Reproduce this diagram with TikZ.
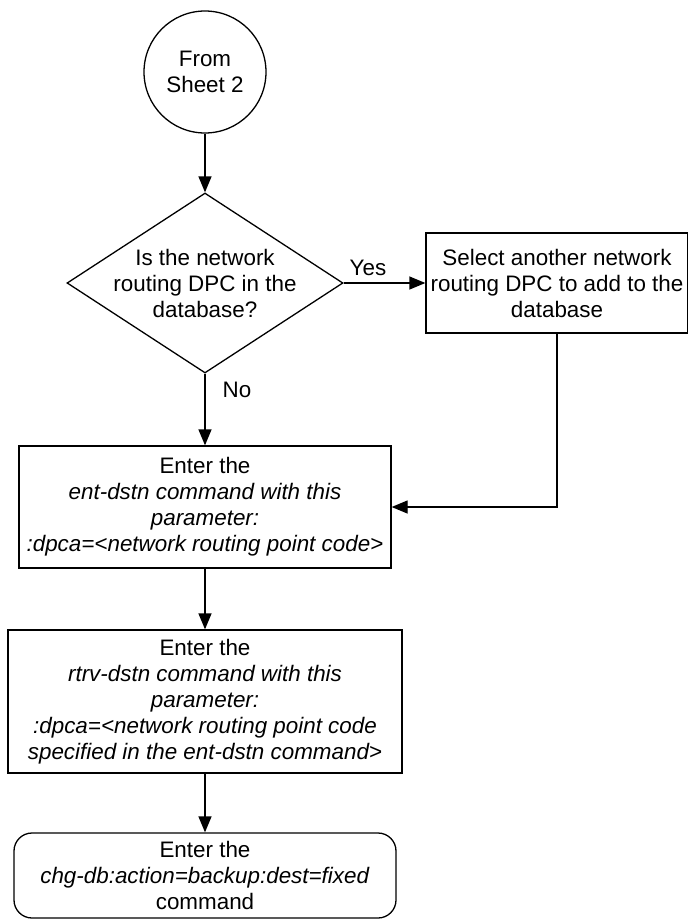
\documentclass[tikz,border=0pt]{standalone}
\usepackage{fontspec}
\setmainfont{Liberation Sans}
\usetikzlibrary{shapes.geometric,arrows.meta}
\begin{document}
\begin{tikzpicture}[x=1pt,y=-1pt,
  every node/.style={font=\fontsize{22.4}{26}\selectfont, align=center, inner sep=0pt},
  line/.style={line width=1.3pt, draw=black},
  arr/.style={line, -{Triangle[length=16pt,width=13pt]}},
  procbox/.style={rectangle, line, line width=1.3pt},
  termbox/.style={rectangle, rounded corners=18pt, line, line width=1.3pt},
  connector/.style={circle, line, line width=1.3pt, minimum size=122pt},
  decision/.style={diamond, line, line width=1.3pt, minimum width=276pt, minimum height=180pt}
]
\useasboundingbox (0,0) rectangle (688,922);

\node[connector] (start) at (205,72) {From\\Sheet 2};

\node[decision, label={[align=center]center:Is the network\\routing DPC in the\\database?}] (dec) at (205,283) {};

\node[procbox, minimum width=262pt, minimum height=100pt] (sel) at (557,283)
  {Select another network\\routing DPC to add to the\\database};

\node[procbox, minimum width=372pt, minimum height=122pt] (ent) at (205,507)
  {Enter the\\\textit{ent-dstn command with this}\\\textit{parameter:}\\\textit{:dpca=<network routing point code>}};

\node[procbox, minimum width=394pt, minimum height=143pt] (rtrv) at (205,701.5)
  {Enter the\\\textit{rtrv-dstn command with this}\\\textit{parameter:}\\\textit{:dpca=<network routing point code}\\\textit{specified in the ent-dstn command>}};

\node[termbox, minimum width=382pt, minimum height=85pt] (chg) at (205,875.5)
  {Enter the\\\textit{chg-db:action=backup:dest=fixed}\\command};

\coordinate (bend) at (sel.south |- ent.east);

\draw[arr] (start) -- (dec.north);
\draw[arr] (dec.east) -- (sel.west);
\node (yes) at (368,268) {Yes};
\draw[arr] (dec.south) -- (ent.north);
\node (no) at (237,390) {No};
\draw[arr] (sel.south) -- (bend) -- (ent.east);
\draw[arr] (ent.south) -- (rtrv.north);
\draw[arr] (rtrv.south) -- (chg.north);
\end{tikzpicture}
\end{document}
